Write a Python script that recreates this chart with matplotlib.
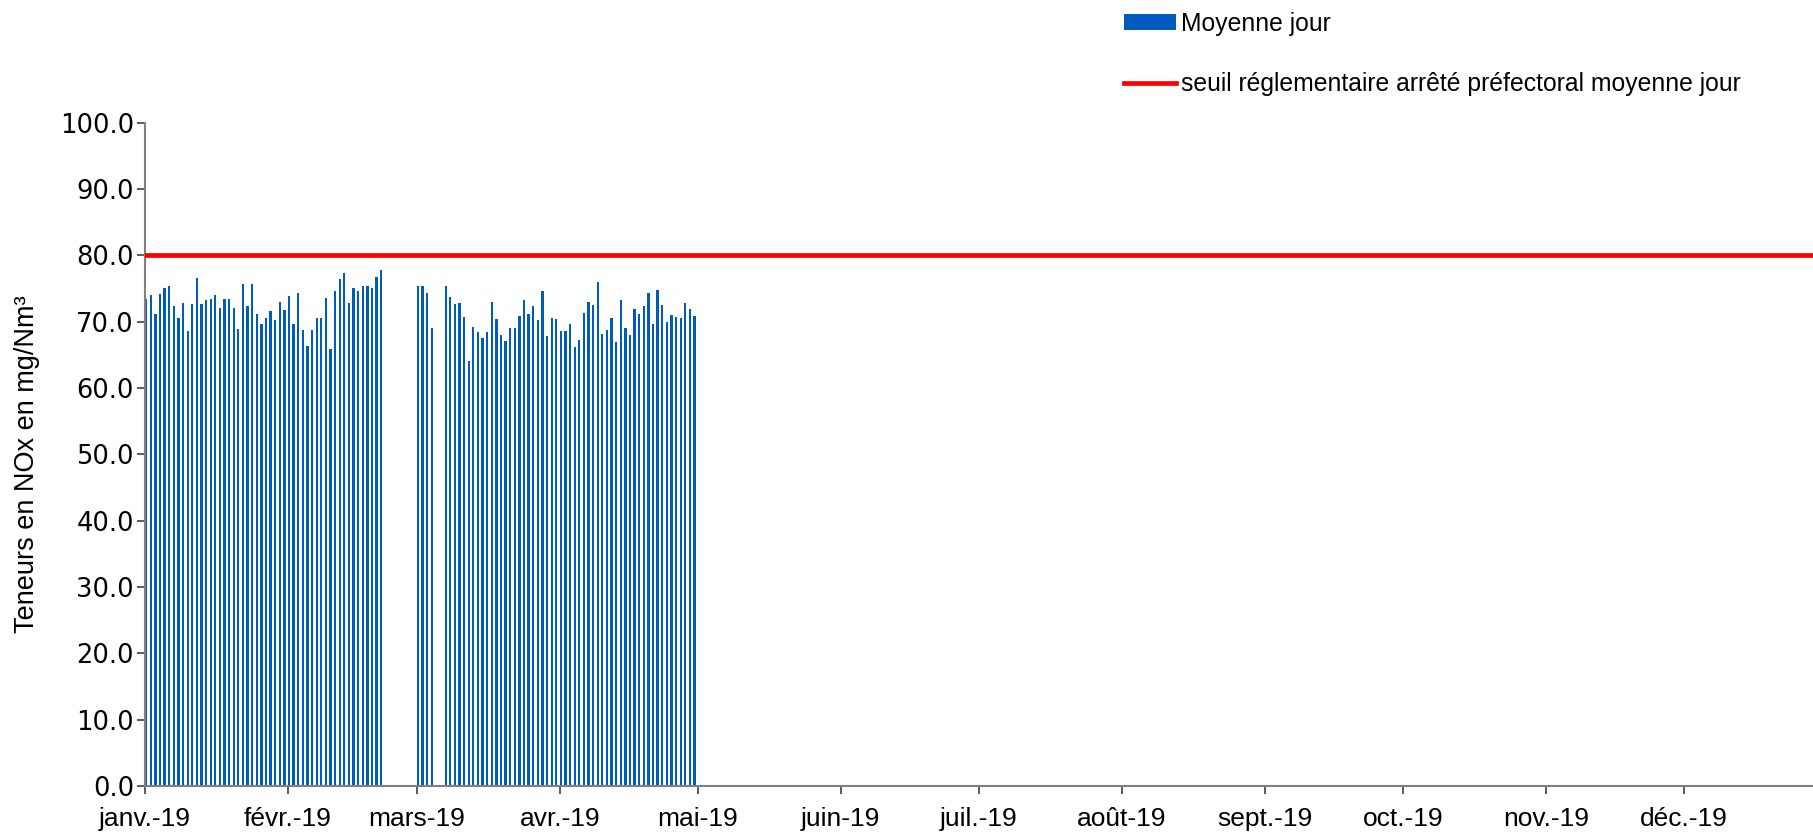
import matplotlib
matplotlib.use("Agg")
import matplotlib.pyplot as plt
import matplotlib.dates as mdates
import numpy as np
import pandas as pd

plt.rcParams['font.family'] = ['Liberation Sans', 'DejaVu Sans']

nan = np.nan
# moyennes journalieres NOx (mg/Nm3), 1er janv. -> 30 avr. 2019
jan = [73.4, 74.0, 71.1, 74.1, 75.1, 75.3, 72.4, 70.5, 72.8, 68.6, 72.6, 76.6, 72.6, 73.3, 73.4, 74.0,
       72.1, 73.4, 73.4, 72.1, 68.9, 75.6, 72.4, 75.6, 71.1, 69.6, 70.6, 71.6, 70.3, 73.0, 71.8]
feb = [73.9, 69.7, 74.3, 68.7, 66.3, 68.7, 70.5, 70.5, 73.6, 65.8, 74.6, 76.4, 77.3, 72.8, 75.0, 74.6,
       75.3, 75.4, 75.1, 76.7, 77.7, nan, nan, nan, nan, nan, nan, nan]
mar = [75.3, 75.3, 74.3, 69.0, nan, nan, 75.4, 73.7, 72.6, 72.8, 70.7, 64.1, 69.2, 68.4, 67.5, 68.4,
       72.9, 70.4, 67.9, 67.0, 69.1, 69.0, 70.8, 73.3, 71.1, 72.3, 70.2, 74.6, 67.8, 70.6, 70.4]
apr = [68.6, 68.6, 69.6, 66.2, 67.2, 71.3, 73.0, 72.5, 75.9, 68.1, 68.8, 70.6, 66.9, 73.3, 69.1, 68.0,
       71.9, 71.1, 72.3, 74.3, 69.6, 74.8, 72.5, 69.9, 71.0, 70.7, 70.5, 72.8, 71.9, 70.8]
values = np.array(jan + feb + mar + apr)
dates = pd.date_range("2019-01-01", periods=len(values), freq="D")
seuil = 80.0

month_starts = pd.date_range("2019-01-01", "2019-12-01", freq="MS")
month_labels = ["janv.-19", "févr.-19", "mars-19", "avr.-19", "mai-19", "juin-19",
                "juil.-19", "août-19", "sept.-19", "oct.-19", "nov.-19", "déc.-19"]

fig = plt.figure(figsize=(18.13, 8.34), dpi=100)
ax = fig.add_axes([0.08, 0.0576, 0.92, 0.7955])

x = mdates.date2num(dates)
ok = ~np.isnan(values)
bars = ax.bar(x[ok], values[ok], width=0.5, align='edge', color='#005BBF', zorder=2)
x0 = mdates.date2num(pd.Timestamp("2019-01-01"))
line = ax.axhline(seuil, color='#FF0000', lw=3.4, zorder=3)

ax.set_xlim(x0, x0 + 362)
ax.set_ylim(0, 100)
ax.set_yticks(np.arange(0, 101, 10))
ax.set_yticklabels([f"{v:.1f}" for v in np.arange(0, 101, 10)], family=['DejaVu Sans'], fontsize=18.5)
ax.set_xticks(mdates.date2num(month_starts))
ax.set_xticklabels(month_labels, fontsize=19)

for s in ['top', 'right']:
    ax.spines[s].set_visible(False)
for s in ['left', 'bottom']:
    ax.spines[s].set_color('#808080')
    ax.spines[s].set_linewidth(1.5)
ax.tick_params(axis='both', direction='out', length=6, width=1.2, color='#404040', labelcolor='black')
ax.tick_params(axis='y', pad=2)
ax.tick_params(axis='x', pad=9)

ax.set_ylabel('Teneurs en NOx en mg/Nm³', fontsize=19.5)
ax.yaxis.set_label_coords(-0.063, 0.485)

ax.legend([bars, line], ['Moyenne jour', 'seuil réglementaire arrêté préfectoral moyenne jour'],
          loc='upper left', bbox_to_anchor=(1124 / 1813, 1 - 12 / 834), bbox_transform=fig.transFigure,
          frameon=False, fontsize=17.8, handlelength=2.1, handleheight=0.6, handletextpad=0.2,
          labelspacing=1.45, borderpad=0, borderaxespad=0)

fig.savefig("out.png", dpi=100)
